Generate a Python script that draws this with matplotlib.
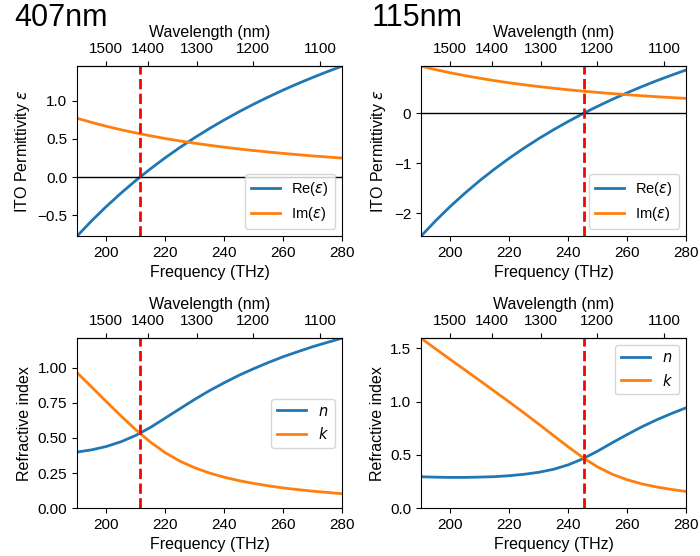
import numpy as np
import matplotlib
matplotlib.use("Agg")
import matplotlib.pyplot as plt

plt.rcParams["font.family"] = ["Liberation Sans", "DejaVu Sans"]
plt.rcParams["font.size"] = 11.5
plt.rcParams["xtick.labelsize"] = 11
plt.rcParams["ytick.labelsize"] = 11
plt.rcParams["legend.fontsize"] = 10.5

# frequency grid (THz)
freq = [190, 195, 200, 205, 210, 215, 220, 225, 230, 235,
        240, 245, 250, 255, 260, 265, 270, 275, 280]

# 407nm film
re_407 = [-0.770, -0.568, -0.381, -0.206, -0.042, 0.111, 0.255, 0.390, 0.517, 0.636,
          0.748, 0.854, 0.954, 1.048, 1.138, 1.222, 1.302, 1.378, 1.450]
im_407 = [0.770, 0.715, 0.665, 0.619, 0.578, 0.540, 0.505, 0.473, 0.444, 0.417,
          0.392, 0.369, 0.348, 0.329, 0.311, 0.294, 0.278, 0.264, 0.250]
n_407 = [0.399, 0.415, 0.439, 0.473, 0.518, 0.575, 0.641, 0.708, 0.774, 0.836,
         0.892, 0.945, 0.992, 1.036, 1.077, 1.113, 1.148, 1.179, 1.209]
k_407 = [0.964, 0.861, 0.757, 0.655, 0.557, 0.469, 0.394, 0.334, 0.287, 0.250,
         0.220, 0.196, 0.176, 0.159, 0.144, 0.132, 0.121, 0.112, 0.103]

# 115nm film
re_115 = [-2.460, -2.150, -1.862, -1.596, -1.347, -1.116, -0.900, -0.698, -0.509, -0.332,
          -0.166, -0.009, 0.138, 0.277, 0.407, 0.531, 0.648, 0.758, 0.863]
im_115 = [0.940, 0.870, 0.807, 0.750, 0.698, 0.650, 0.607, 0.568, 0.532, 0.499,
          0.468, 0.440, 0.415, 0.391, 0.369, 0.348, 0.329, 0.312, 0.296]
n_115 = [0.295, 0.291, 0.289, 0.289, 0.292, 0.296, 0.305, 0.318, 0.337, 0.365,
         0.407, 0.464, 0.536, 0.615, 0.691, 0.764, 0.829, 0.888, 0.942]
k_115 = [1.596, 1.495, 1.395, 1.296, 1.197, 1.097, 0.996, 0.894, 0.789, 0.682,
         0.576, 0.474, 0.387, 0.318, 0.267, 0.228, 0.199, 0.176, 0.157]

# frequency where Re(eps) crosses zero
zero_407 = 211.4
zero_115 = 245.3

wl_ticks = [1100, 1200, 1300, 1400, 1500]
C = 299792.458  # nm*THz


def f2w(f):
    f = np.asarray(f, dtype=float)
    with np.errstate(divide="ignore"):
        return C / f


def add_top(ax):
    sec = ax.secondary_xaxis("top", functions=(f2w, f2w))
    sec.set_xticks(wl_ticks)
    sec.set_xlabel("Wavelength (nm)")


fig, axs = plt.subplots(2, 2, figsize=(7, 5.56), dpi=100)
fig.subplots_adjust(left=0.11, right=0.98, top=0.881, bottom=0.086,
                    wspace=0.298, hspace=0.6)

panels = [(re_407, im_407, n_407, k_407, zero_407),
          (re_115, im_115, n_115, k_115, zero_115)]

for col, (re, im, n, k, z) in enumerate(panels):
    ax = axs[0, col]
    ax.plot(freq, re, lw=2, label=r"Re($\varepsilon$)")
    ax.plot(freq, im, lw=2, label=r"Im($\varepsilon$)")
    ax.axhline(0, color="black", linewidth=1)
    ax.axvline(z, color="red", linestyle="--", linewidth=2)
    ax.set_xlim(190, 280)
    ax.set_ylim(min(re), max(max(re), max(im)))
    ax.set_xlabel("Frequency (THz)")
    ax.set_ylabel(r"ITO Permittivity $\varepsilon$")
    ax.legend(loc="lower right")
    add_top(ax)

    ax = axs[1, col]
    ax.plot(freq, n, lw=2, label=r"$n$")
    ax.plot(freq, k, lw=2, label=r"$k$")
    ax.axvline(z, color="red", linestyle="--", linewidth=2)
    ax.set_xlim(190, 280)
    ax.set_ylim(0, max(max(n), max(k)))
    ax.set_xlabel("Frequency (THz)")
    ax.set_ylabel("Refractive index")
    ax.legend(loc="center right" if col == 0 else "upper right")
    add_top(ax)

fig.text(0.021, 0.953, "407nm", fontsize=22, va="baseline")
fig.text(0.531, 0.953, "115nm", fontsize=22, va="baseline")

fig.savefig("out.png", dpi=100)
